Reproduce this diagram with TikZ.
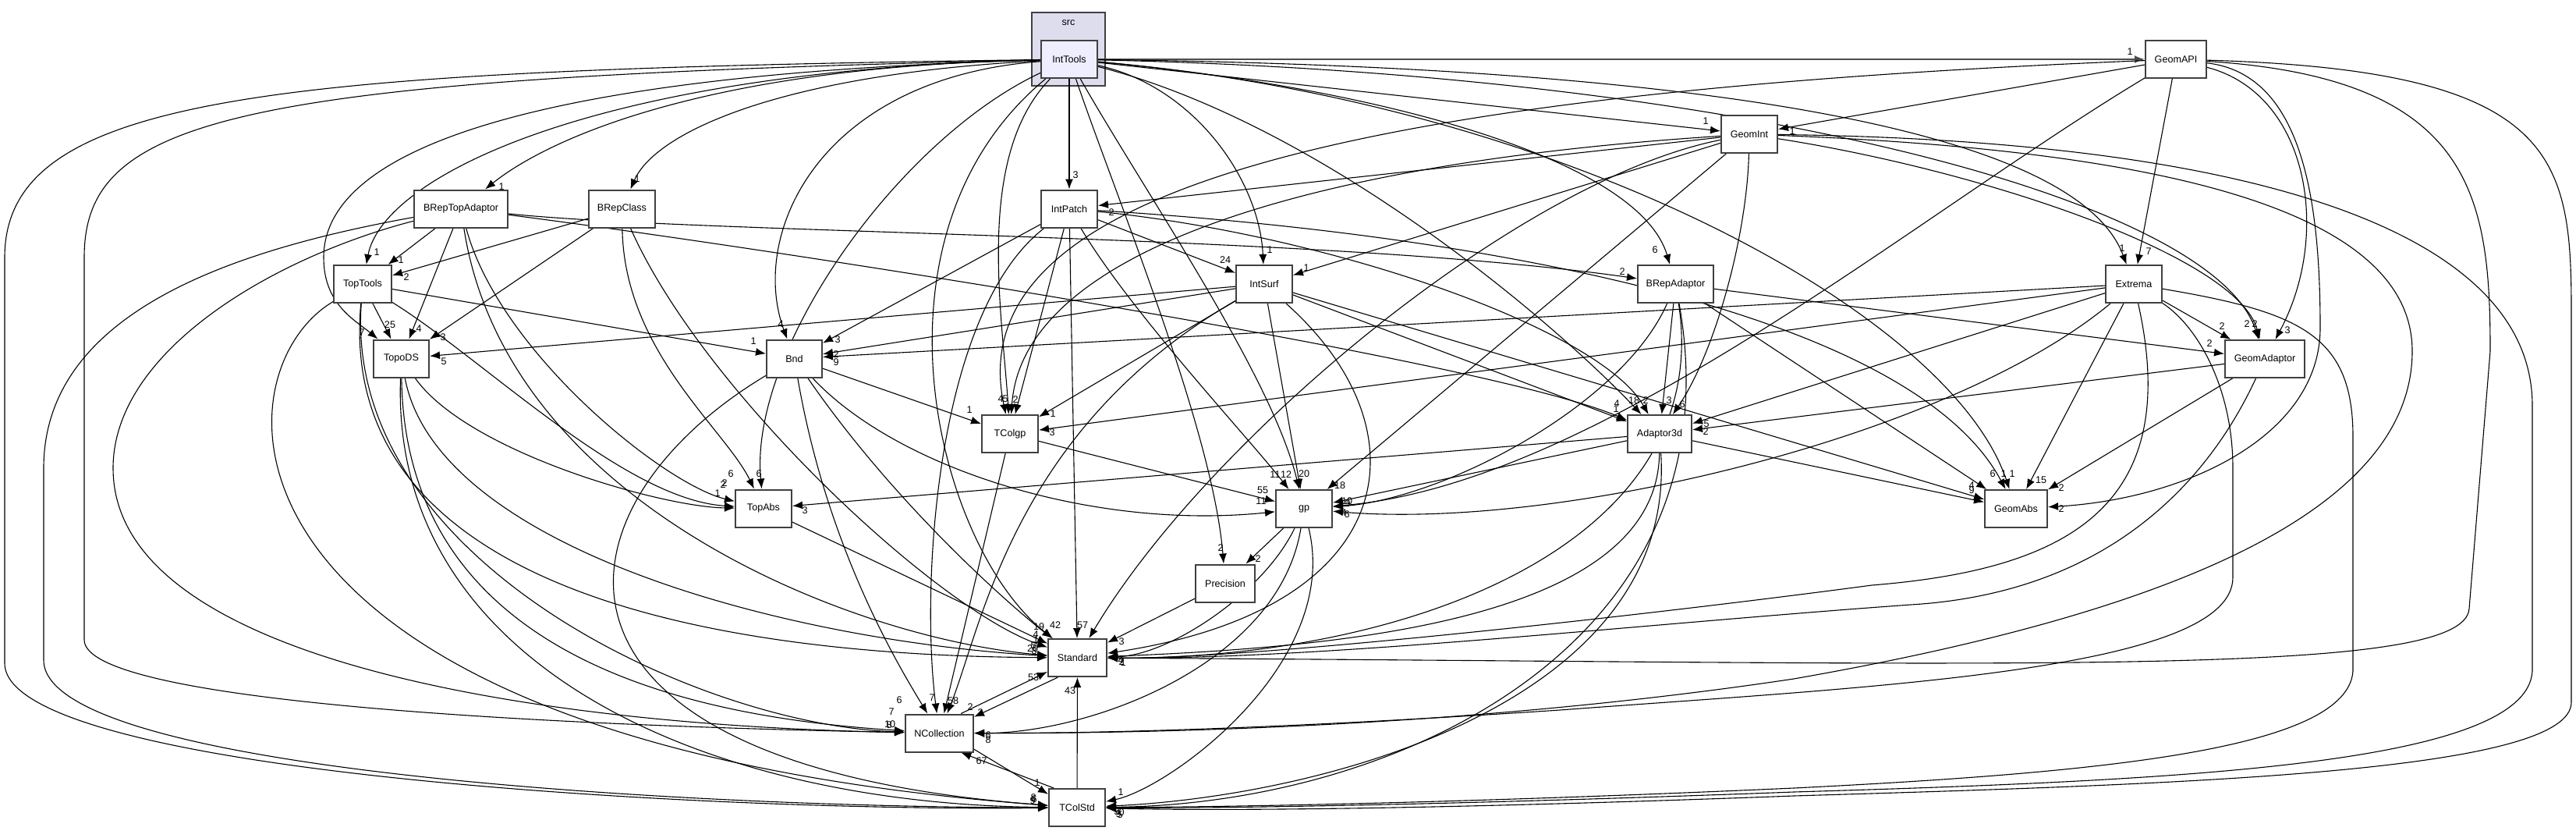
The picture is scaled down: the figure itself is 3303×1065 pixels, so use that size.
\documentclass[tikz,border=0pt]{standalone}
\usepackage{fontspec}
\setmainfont{Liberation Sans}
\usetikzlibrary{arrows.meta}
\definecolor{clfill}{HTML}{DDDDEE}
\definecolor{nfill}{HTML}{EEEEFF}
\pgfdeclarelayer{cl}
\pgfdeclarelayer{bg}
\pgfsetlayers{cl,bg,main}
\newcounter{lc}
\newcommand{\elab}[3]{\stepcounter{lc}\node[lbl] (lab\arabic{lc}) at (#1,#2) {#3};}
\begin{document}
\begin{tikzpicture}[x=0.5pt,y=-0.5pt,
 box/.style={draw=black!75, line width=1pt, fill=white, minimum height=24pt, inner sep=0pt, font=\fontsize{6.3}{7}\selectfont},
 e/.style={draw=black, line width=0.55pt, -{Latex[length=6.5pt,width=5pt]}},
 lbl/.style={font=\fontsize{6.3}{7}\selectfont, inner sep=0pt},
]
\useasboundingbox (0,0) rectangle (3303,1065);
\begin{pgfonlayer}{cl}
\fill[white] (0,0) rectangle (3303,1065);
\draw[fill=clfill, draw=black!75, line width=1pt] (1323,16) rectangle (1417,110);
\end{pgfonlayer}
\node[lbl] (srclabel) at (1370,29) {src};
% nodes
\node[box, fill=nfill, minimum width=36pt] (IntTools) at (1371,76) {IntTools};
\node[box, minimum width=39pt] (GeomAPI) at (2790,76) {GeomAPI};
\node[box, minimum width=36pt] (GeomInt) at (2243,172) {GeomInt};
\node[box, minimum width=36pt] (IntPatch) at (1371,267.5) {IntPatch};
\node[box, minimum width=60pt] (BRepTopAdaptor) at (591,267.5) {BRepTopAdaptor};
\node[box, minimum width=42.5pt] (BRepClass) at (797.5,267.5) {BRepClass};
\node[box, minimum width=37pt] (TopTools) at (465,364) {TopTools};
\node[box, minimum width=36pt] (IntSurf) at (1621,364) {IntSurf};
\node[box, minimum width=48.5pt] (BRepAdaptor) at (2148.5,364) {BRepAdaptor};
\node[box, minimum width=36pt] (Extrema) at (2736,364) {Extrema};
\node[box, minimum width=35.5pt] (TopoDS) at (514.5,459.5) {TopoDS};
\node[box, minimum width=35.5pt] (Bnd) at (1018.5,459.5) {Bnd};
\node[box, minimum width=51pt] (GeomAdaptor) at (2904,460) {GeomAdaptor};
\node[box, minimum width=36pt] (TColgp) at (1295,556) {TColgp};
\node[box, minimum width=41pt] (Adaptor3d) at (2128,556) {Adaptor3d};
\node[box, minimum width=36pt] (TopAbs) at (979,651.5) {TopAbs};
\node[box, minimum width=36pt] (gp) at (1672,652) {gp};
\node[box, minimum width=40pt] (GeomAbs) at (2585,652) {GeomAbs};
\node[box, minimum width=38pt] (Precision) at (1571,747.5) {Precision};
\node[box, minimum width=37.5pt] (Standard) at (1381.5,843) {Standard};
\node[box, minimum width=43.5pt] (NCollection) at (1204.5,939.5) {NCollection};
\node[box, minimum width=36pt] (TColStd) at (1381,1035) {TColStd};

\begin{pgfonlayer}{bg}
% IntTools
\draw[e, line width=1pt, draw=black!70] (IntTools) -- (GeomAPI);
\draw[e] (IntTools) -- (GeomInt);
\draw[e] (IntTools) -- (IntPatch);
\draw[e] (IntTools) .. controls (900,85) and (700,180) .. (BRepTopAdaptor);
\draw[e] (IntTools) .. controls (1000,95) and (840,170) .. (BRepClass);
\draw[e] (IntTools) .. controls (750,90) and (490,230) .. (TopTools);
\draw[e] (IntTools) .. controls (650,95) and (415,200) .. (415,330) .. controls (415,390) and (455,410) .. (TopoDS);
\draw[e] (IntTools) .. controls (1050,100) and (960,300) .. (Bnd);
\draw[e] (IntTools) .. controls (1150,180) and (960,450) .. (TopAbs);
\draw[e] (IntTools) .. controls (1250,200) and (1285,400) .. (TColgp);
\draw[e] (IntTools) .. controls (1530,110) and (1615,230) .. (IntSurf);
\draw[e] (IntTools) .. controls (1750,110) and (2100,200) .. (BRepAdaptor);
\draw[e] (IntTools) .. controls (2150,85) and (2660,160) .. (Extrema);
\draw[e] (IntTools) .. controls (2250,95) and (2840,260) .. (GeomAdaptor);
\draw[e] (IntTools) .. controls (1700,160) and (2000,420) .. (Adaptor3d);
\draw[e] (IntTools) .. controls (1470,250) and (1630,480) .. (gp);
\draw[e] (IntTools) .. controls (2000,130) and (2500,400) .. (GeomAbs);
\draw[e] (IntTools) .. controls (1430,250) and (1555,550) .. (Precision);
\draw[e] (IntTools) .. controls (1100,300) and (1200,700) .. (Standard);
\draw[e] (IntTools) .. controls (300,100) and (108,150) .. (108,330) -- (108,820) .. controls (108,900) and (700,930) .. (NCollection);
\draw[e] (IntTools) .. controls (350,90) and (6,120) .. (6,330) -- (6,850) .. controls (6,990) and (900,1040) .. (TColStd);
% GeomAPI
\draw[e] (GeomAPI) -- (GeomInt);
\draw[e] (GeomAPI) -- (Extrema);
\draw[e] (GeomAPI) .. controls (2960,120) and (2990,300) .. (GeomAdaptor);
\draw[e] (GeomAPI) .. controls (1700,120) and (1230,250) .. (TColgp);
\draw[e] (GeomAPI) .. controls (2450,280) and (2050,620) .. (gp);
\draw[e] (GeomAPI) .. controls (2950,95) and (2975,250) .. (2975,420) .. controls (2975,560) and (2800,640) .. (GeomAbs);
\draw[e] (GeomAPI) .. controls (3170,100) and (3193,250) .. (3193,450) -- (3166,780) .. controls (3160,870) and (2600,850) .. (Standard);
\draw[e] (GeomAPI) .. controls (3280,90) and (3297,200) .. (3297,400) -- (3297,900) .. controls (3297,990) and (2800,1005) .. (2300,1020) .. controls (1900,1035) and (1600,1040) .. (TColStd);
% GeomInt
\draw[e] (GeomInt) -- (IntPatch);
\draw[e] (GeomInt) -- (IntSurf);
\draw[e] (GeomInt) .. controls (1650,210) and (1310,330) .. (TColgp);
\draw[e] (GeomInt) -- (gp);
\draw[e] (GeomInt) .. controls (2240,300) and (2200,450) .. (Adaptor3d);
\draw[e] (GeomInt) .. controls (2550,220) and (2870,330) .. (GeomAdaptor);
\draw[e] (GeomInt) .. controls (1950,230) and (1550,560) .. (Standard);
\draw[e] (GeomInt) .. controls (2700,190) and (3093,250) .. (3093,450) .. controls (3093,680) and (2700,800) .. (2300,870) .. controls (1900,930) and (1500,940) .. (NCollection);
\draw[e] (GeomInt) .. controls (2900,180) and (3247,300) .. (3247,520) -- (3247,860) .. controls (3240,980) and (2800,1000) .. (2300,1015) .. controls (1900,1030) and (1600,1036) .. (TColStd);
% IntPatch
\draw[e] (IntPatch) -- (IntSurf);
\draw[e] (IntPatch) -- (TColgp);
\draw[e] (IntPatch) -- (Bnd);
\draw[e] (IntPatch) .. controls (1700,300) and (2050,420) .. (Adaptor3d);
\draw[e] (IntPatch) .. controls (1450,400) and (1600,560) .. (gp);
\draw[e] (IntPatch) .. controls (1900,300) and (2450,400) .. (GeomAbs);
\draw[e] (IntPatch) -- (Standard);
\draw[e] (IntPatch) .. controls (1200,400) and (1180,750) .. (NCollection);
% IntSurf
\draw[e] (IntSurf) -- (TopoDS);
\draw[e] (IntSurf) -- (Bnd);
\draw[e] (IntSurf) -- (TColgp);
\draw[e] (IntSurf) -- (gp);
\draw[e] (IntSurf) -- (Adaptor3d);
\draw[e] (IntSurf) -- (GeomAbs);
\draw[e] (IntSurf) .. controls (1830,550) and (1800,780) .. (Standard);
\draw[e] (IntSurf) .. controls (1300,550) and (1260,800) .. (NCollection);
% BRepTopAdaptor
\draw[e] (BRepTopAdaptor) -- (TopTools);
\draw[e] (BRepTopAdaptor) -- (TopoDS);
\draw[e] (BRepTopAdaptor) .. controls (900,300) and (1700,300) .. (BRepAdaptor);
\draw[e] (BRepTopAdaptor) .. controls (1000,320) and (1900,460) .. (Adaptor3d);
\draw[e] (BRepTopAdaptor) .. controls (640,450) and (850,620) .. (TopAbs);
\draw[e] (BRepTopAdaptor) .. controls (650,650) and (1100,820) .. (Standard);
\draw[e] (BRepTopAdaptor) .. controls (300,320) and (56,400) .. (56,600) -- (56,846) .. controls (56,990) and (900,1035) .. (TColStd);
\draw[e] (BRepTopAdaptor) .. controls (350,330) and (145,450) .. (145,600) .. controls (145,850) and (700,930) .. (NCollection);
% BRepClass
\draw[e] (BRepClass) -- (TopTools);
\draw[e] (BRepClass) -- (TopoDS);
\draw[e] (BRepClass) .. controls (800,450) and (930,550) .. (TopAbs);
\draw[e] (BRepClass) .. controls (900,500) and (1200,780) .. (Standard);
% TopTools
\draw[e] (TopTools) -- (TopoDS);
\draw[e] (TopTools) -- (Bnd);
\draw[e] (TopTools) .. controls (620,460) and (800,640) .. (TopAbs);
\draw[e] (TopTools) .. controls (430,750) and (900,840) .. (Standard);
\draw[e] (TopTools) .. controls (440,720) and (900,930) .. (NCollection);
\draw[e] (TopTools) .. controls (270,480) and (250,950) .. (TColStd);
% TopoDS
\draw[e] (TopoDS) .. controls (600,580) and (850,650) .. (TopAbs);
\draw[e] (TopoDS) .. controls (560,700) and (1000,820) .. (Standard);
\draw[e] (TopoDS) .. controls (520,850) and (900,920) .. (NCollection);
\draw[e] (TopoDS) .. controls (500,850) and (900,1030) .. (TColStd);
% Bnd
\draw[e] (Bnd) -- (TColgp);
\draw[e] (Bnd) .. controls (1150,600) and (1400,680) .. (gp);
\draw[e] (Bnd) .. controls (1150,650) and (1300,780) .. (Standard);
\draw[e] (Bnd) .. controls (1060,700) and (1150,850) .. (NCollection);
\draw[e] (Bnd) .. controls (700,650) and (650,980) .. (TColStd);
% BRepAdaptor
\draw[e] (BRepAdaptor) -- (Adaptor3d);
\draw[e] (BRepAdaptor) -- (GeomAdaptor);
\draw[e] (BRepAdaptor) .. controls (2080,520) and (1850,640) .. (gp);
\draw[e] (BRepAdaptor) -- (GeomAbs);
\draw[e] (BRepAdaptor) .. controls (2200,700) and (1800,845) .. (Standard);
\draw[e] (BRepAdaptor) .. controls (2230,820) and (1800,1030) .. (TColStd);
% Extrema
\draw[e] (Extrema) -- (Bnd);
\draw[e] (Extrema) -- (TColgp);
\draw[e] (Extrema) -- (Adaptor3d);
\draw[e] (Extrema) -- (GeomAdaptor);
\draw[e] (Extrema) .. controls (2500,560) and (2000,680) .. (gp);
\draw[e] (Extrema) -- (GeomAbs);
\draw[e] (Extrema) .. controls (2800,650) and (2650,730) .. (2400,750) .. controls (2100,790) and (1600,845) .. (Standard);
\draw[e] (Extrema) .. controls (2820,420) and (2863,500) .. (2863,600) -- (2863,740) .. controls (2863,860) and (2400,880) .. (2000,910) .. controls (1700,930) and (1450,940) .. (NCollection);
\draw[e] (Extrema) .. controls (2950,400) and (3017,430) .. (3017,560) -- (3017,860) .. controls (3010,960) and (2700,990) .. (2300,1010) .. controls (1900,1028) and (1600,1034) .. (TColStd);
% GeomAdaptor
\draw[e] (GeomAdaptor) -- (Adaptor3d);
\draw[e] (GeomAdaptor) -- (GeomAbs);
\draw[e] (GeomAdaptor) .. controls (2830,620) and (2700,760) .. (2450,775) .. controls (2100,800) and (1700,845) .. (Standard);
% TColgp
\draw[e] (TColgp) -- (gp);
\draw[e] (TColgp) -- (NCollection);
% Adaptor3d
\draw[e] (Adaptor3d) -- (TopAbs);
\draw[e] (Adaptor3d) -- (gp);
\draw[e] (Adaptor3d) -- (GeomAbs);
\draw[e] (Adaptor3d) .. controls (2125,800) and (1700,830) .. (Standard);
\draw[e] (Adaptor3d) .. controls (2150,900) and (1700,1020) .. (TColStd);
% TopAbs
\draw[e] (TopAbs) -- (Standard);
% gp
\draw[e] (gp) -- (Precision);
\draw[e] (gp) .. controls (1620,760) and (1500,840) .. (Standard);
\draw[e] (gp) .. controls (1640,850) and (1400,940) .. (NCollection);
\draw[e] (gp) .. controls (1720,850) and (1500,1010) .. (TColStd);
% Precision, Standard, NCollection, TColStd
\draw[e] (Precision) -- (Standard);
\draw[e] (Standard.225) -- (NCollection.25);
\draw[e] (NCollection.42) -- (Standard.205);
\draw[e] (NCollection.335) -- (TColStd.155);
\draw[e] (TColStd.140) -- (NCollection.318);
\draw[e] (TColStd) -- (Standard);
\end{pgfonlayer}

% labels
\elab{2731}{66}{1}
\elab{2187}{155}{1}
\elab{2298}{168}{1}
\elab{1379}{224}{3}
\elab{1425}{272}{2}
\elab{643}{239}{1}
\elab{817}{229}{1}
\elab{483}{323}{1}
\elab{514}{333}{1}
\elab{521}{355}{2}
\elab{464}{426}{7}
\elab{500}{416}{25}
\elab{537}{421}{4}
\elab{568}{432}{3}
\elab{569}{463}{5}
\elab{1001}{415}{4}
\elab{966}{437}{1}
\elab{1074}{435}{3}
\elab{1072}{454}{2}
\elab{1072}{464}{9}
\elab{1628}{320}{1}
\elab{1571}{333}{24}
\elab{1675}{343}{1}
\elab{2122}{320}{6}
\elab{2080}{348}{2}
\elab{2721}{318}{1}
\elab{2755}{322}{7}
\elab{2849}{418}{2}
\elab{2881}{415}{2}
\elab{2891}{415}{2}
\elab{2933}{423}{3}
\elab{2833}{440}{2}
\elab{1243}{525}{1}
\elab{1283}{511}{4}
\elab{1289}{511}{5}
\elab{1302}{512}{2}
\elab{1350}{530}{1}
\elab{1349}{554}{3}
\elab{2073}{517}{4}
\elab{2072}{524}{1}
\elab{2095}{513}{18}
\elab{2110}{513}{2}
\elab{2140}{513}{3}
\elab{2157}{518}{6}
\elab{2188}{543}{5}
\elab{2187}{553}{2}
\elab{937}{607}{6}
\elab{973}{607}{6}
\elab{929}{619}{2}
\elab{927}{621}{2}
\elab{920}{632}{1}
\elab{1032}{654}{3}
\elab{1635}{608}{11}
\elab{1649}{608}{12}
\elab{1672}{607}{20}
\elab{1718}{622}{18}
\elab{1619}{628}{55}
\elab{1617}{642}{11}
\elab{1727}{642}{10}
\elab{1728}{645}{9}
\elab{1723}{657}{4}
\elab{1727}{659}{6}
\elab{2555}{607}{6}
\elab{2569}{607}{1}
\elab{2580}{607}{1}
\elab{2617}{615}{15}
\elab{2643}{625}{2}
\elab{2643}{652}{2}
\elab{2528}{622}{4}
\elab{2528}{628}{9}
\elab{1565}{702}{2}
\elab{1613}{716}{2}
\elab{1332}{803}{19}
\elab{1353}{801}{42}
\elab{1388}{801}{57}
\elab{1328}{813}{4}
\elab{1328}{820}{1}
\elab{1325}{827}{5}
\elab{1324}{831}{20}
\elab{1326}{834}{8}
\elab{1438}{822}{3}
\elab{1437}{846}{4}
\elab{1438}{848}{2}
\elab{1440}{849}{1}
\elab{1325}{868}{53}
\elab{1372}{885}{43}
\elab{1153}{897}{6}
\elab{1195}{894}{7}
\elab{1222}{898}{58}
\elab{1244}{906}{2}
\elab{1257}{913}{3}
\elab{1143}{912}{7}
\elab{1141}{928}{10}
\elab{1140}{929}{8}
\elab{1267}{942}{6}
\elab{1267}{948}{8}
\elab{1255}{975}{6}
\elab{1262}{975}{7}
\elab{1330}{1003}{1}
\elab{1325}{1022}{8}
\elab{1326}{1024}{6}
\elab{1324}{1026}{9}
\elab{1437}{1015}{1}
\elab{1432}{1040}{3}
\elab{1434}{1043}{9}
\elab{1438}{1041}{0}
\elab{1436}{1044}{5}
\end{tikzpicture}
\end{document}
